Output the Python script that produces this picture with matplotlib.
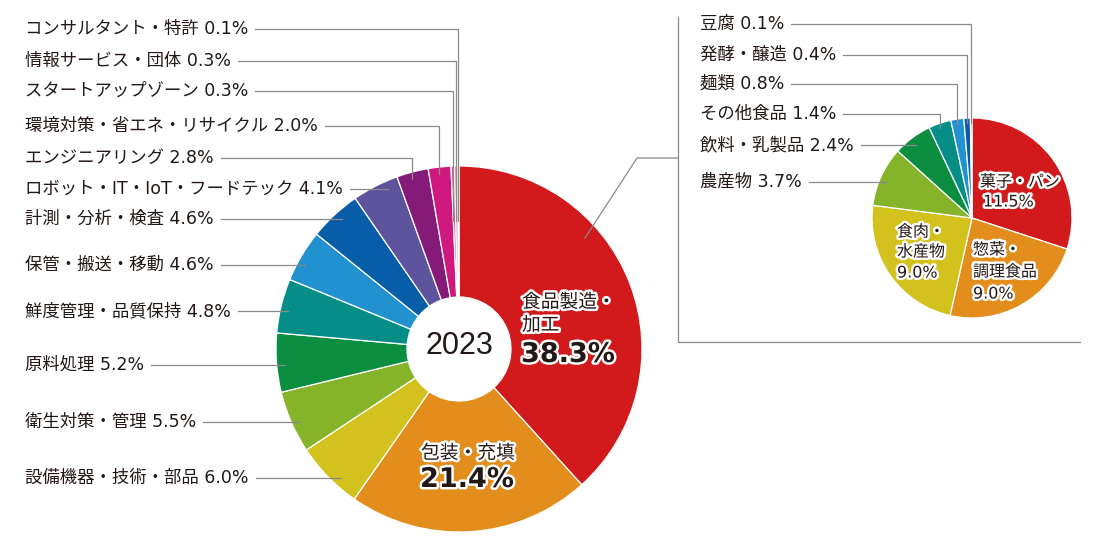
import numpy as np
import matplotlib
matplotlib.use('Agg')
import matplotlib.pyplot as plt
import matplotlib.patheffects as pe

# DejaVu for digits / latin, Noto CJK for the Japanese glyphs
plt.rcParams['font.family'] = ['DejaVu Sans', 'Noto Sans CJK JP']

W, H = 1100, 548
TXT = '#231815'
LINE = '#8a8a8a'

# main donut (share of exhibitors, %)
main_labels = ['食品製造・加工', '包装・充填', '設備機器・技術・部品', '衛生対策・管理', '原料処理',
               '鮮度管理・品質保持', '保管・搬送・移動', '計測・分析・検査',
               'ロボット・IT・IoT・フードテック', 'エンジニアリング', '環境対策・省エネ・リサイクル',
               'スタートアップゾーン', '情報サービス・団体', 'コンサルタント・特許']
main_values = [38.3, 21.4, 6.0, 5.5, 5.2, 4.8, 4.6, 4.6, 4.1, 2.8, 2.0, 0.3, 0.3, 0.1]
main_colors = ['#d2191b', '#e38e1c', '#d3c11e', '#85b42b', '#0b8e3f', '#058e88', '#2191cf',
               '#085da8', '#5e539d', '#851a78', '#d0197e', '#e25a9b', '#ec8dbb', '#f2b6cf']

# breakdown of 食品製造・加工
sub_labels = ['菓子・パン', '惣菜・調理食品', '食肉・水産物', '農産物', '飲料・乳製品',
              'その他食品', '麺類', '発酵・醸造', '豆腐']
sub_values = [11.5, 9.0, 9.0, 3.7, 2.4, 1.4, 0.8, 0.4, 0.1]
sub_colors = ['#d2191b', '#e38e1c', '#d3c11e', '#85b42b', '#0b8e3f', '#058e88', '#2191cf',
              '#085da8', '#5e539d']

fig = plt.figure(figsize=(W / 100, H / 100), dpi=100)
ax = fig.add_axes([0, 0, 1, 1])

# centres / radii in pixels (y measured from top of image)
mcx, mcy, mR, mr = 459, 349, 183, 52
scx, scy, sR = 972, 218, 100

ax.pie(main_values, colors=main_colors, startangle=90, counterclock=False,
       center=(mcx, H - mcy), radius=mR, frame=True,
       wedgeprops=dict(width=mR - mr, edgecolor='white', linewidth=0.9))
ax.pie(sub_values, colors=sub_colors, startangle=90, counterclock=False,
       center=(scx, H - scy), radius=sR, frame=True,
       wedgeprops=dict(edgecolor='white', linewidth=0.9))

ax.set_xlim(0, W)
ax.set_ylim(0, H)
ax.set_aspect('equal')
ax.axis('off')


def mid_angles(vals):
    cum = np.concatenate([[0], np.cumsum(vals)]) / np.sum(vals)
    mids = (cum[:-1] + cum[1:]) / 2
    return np.radians(90 - 360 * mids)


main_mid = mid_angles(main_values)
sub_mid = mid_angles(sub_values)

fig.canvas.draw()
renderer = fig.canvas.get_renderer()
inv = ax.transData.inverted()


def text_right(t):
    bb = t.get_window_extent(renderer)
    return inv.transform((bb.x1, bb.y0))[0]


def put_label(x, y, text, idx, cx, cy, R, mids, vertical, r_end):
    t = ax.text(x, H - y, text, fontsize=12.5, color=TXT, va='center', ha='left')
    x0 = text_right(t) + 7
    th = mids[idx]
    if vertical:
        xe = cx + R * np.cos(th)
        ye = cy - r_end * np.sin(th)
        ax.plot([x0, xe, xe], [H - y, H - y, H - ye], color=LINE, lw=0.9)
    else:
        rr = R - 8
        xe = cx - np.sqrt(max(rr ** 2 - (y - cy) ** 2, 0))
        ax.plot([x0, xe], [H - y, H - y], color=LINE, lw=0.9)


# left labels, top to bottom
left_y = [29, 61, 91, 126, 158, 189, 219, 265, 311, 365, 422, 478]
for k, y in enumerate(left_y):
    i = 13 - k
    vert = i >= 9
    r_end = mR * 0.7 if i >= 11 else mR - 7
    put_label(25, y, f'{main_labels[i]} {main_values[i]:.1f}%', i,
              mcx, mcy, mR, main_mid, vert, r_end)

# right labels, top to bottom
right_y = [24, 55, 84, 114, 145, 182]
for k, y in enumerate(right_y):
    i = 8 - k
    vert = i >= 5
    put_label(700, y, f'{sub_labels[i]} {sub_values[i]:.1f}%', i,
              scx, scy, sR, sub_mid, vert, sR - 5)

# bracket linking 食品製造・加工 to the breakdown pie
ax.plot([585, 637, 678], [H - 238, H - 158, H - 158], color=LINE, lw=0.9)
ax.plot([678, 678, 1080], [H - 17, H - 342, H - 342], color=LINE, lw=0.9)

# centre
ax.text(mcx, H - 346, '2023', fontsize=22, color=TXT, ha='center', va='center',
        family='Liberation Sans')

halo = [pe.withStroke(linewidth=3.5, foreground='white')]


def inner(x, y, s, size, bold=False):
    ax.text(x, H - y, s, fontsize=size, color=TXT, ha='left', va='center',
            fontweight='bold' if bold else 'normal', path_effects=halo)


inner(522, 302, '食品製造・', 13.5)
inner(522, 325, '加工', 13.5)
inner(521, 355, f'{main_values[0]:.1f}%', 19.5, bold=True)
inner(421, 453, '包装・充填', 13.5)
inner(420, 480, f'{main_values[1]:.1f}%', 19.5, bold=True)

inner(980, 182, '菓子・パン', 11.5)
inner(983, 202, f'{sub_values[0]:.1f}%', 11.5)
inner(973, 250, '惣菜・', 11.5)
inner(973, 272, '調理食品', 11.5)
inner(973, 294, f'{sub_values[1]:.1f}%', 11.5)
inner(897, 232, '食肉・', 11.5)
inner(897, 252, '水産物', 11.5)
inner(897, 273, f'{sub_values[2]:.1f}%', 11.5)

fig.savefig('out.png', dpi=100, facecolor='white')
